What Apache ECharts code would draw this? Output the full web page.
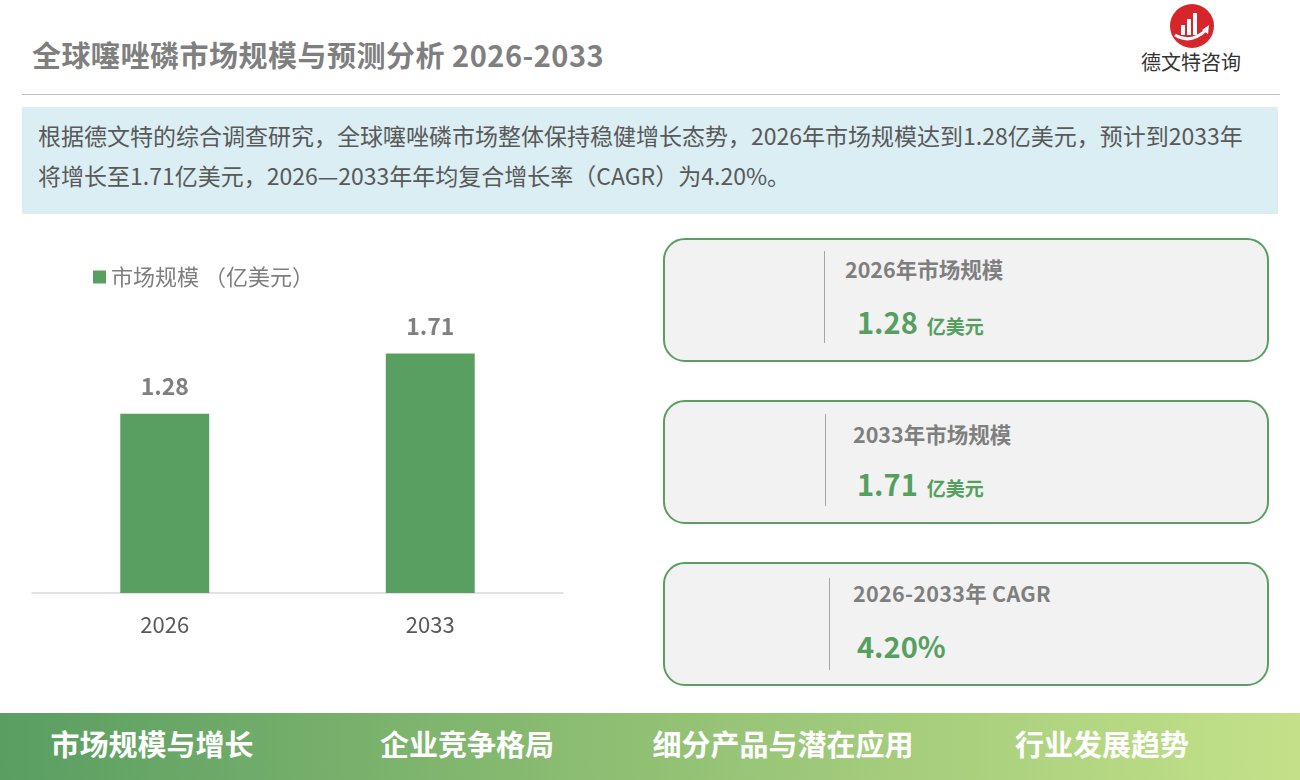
<!DOCTYPE html>
<html><head><meta charset="utf-8">
<script src="https://cdn.jsdelivr.net/npm/echarts@6/dist/echarts.min.js"></script>
<style>
*{margin:0;padding:0;box-sizing:border-box}
body{width:1300px;height:780px;background:#fff;position:relative;overflow:hidden;font-family:"Noto Sans CJK SC","Noto Sans",sans-serif}
.abs{position:absolute;line-height:1}
#title{left:32px;top:40px;font-size:29px;font-weight:bold;color:#7f7f7f;white-space:nowrap;letter-spacing:0.5px}
#rule{left:22px;top:94px;width:1258px;height:1px;background:#bfbfbf}
#logoText{left:1141px;top:52px;font-size:20px;color:#333;white-space:nowrap}
#info{left:22px;top:107px;width:1256px;height:107px;background:#daeef3;padding:8px 0 0 16px;font-size:23px;color:#595959;white-space:nowrap}
.card{left:663px;width:606px;height:124px;border:2px solid #5a9e62;border-radius:22px;background:#f2f2f2}
.vline{width:1px;background:#a6a6a6}
.ct{font-size:21.5px;font-weight:bold;color:#7f7f7f;white-space:nowrap}
.cv{font-size:29px;font-weight:bold;color:#55a05f;white-space:nowrap}
.cu{font-size:19px;font-weight:bold;color:#55a05f;margin-left:9px}
#footer{left:0;top:713px;width:1300px;height:67px;background:linear-gradient(90deg,#5a9e62 0%,#8cbd72 45%,#c4e189 100%)}
.ft{top:729px;font-size:29px;font-weight:bold;color:#fff;white-space:nowrap;transform:translateX(-50%)}
#chart{left:0;top:230px;width:600px;height:430px}
</style></head>
<body>
<div id="title" class="abs">全球噻唑磷市场规模与预测分析 2026-2033</div>
<svg class="abs" style="left:1169px;top:3px" width="46" height="46" viewBox="0 0 46 46">
<circle cx="23" cy="23" r="22" fill="#d7262b"/>
<rect x="12" y="22" width="4" height="10" fill="#fff"/>
<rect x="18" y="16" width="4" height="16" fill="#fff"/>
<rect x="24" y="10" width="4" height="22" fill="#fff"/>
<path d="M6 32 Q22 42 38 26" stroke="#fff" stroke-width="3" fill="none"/>
<path d="M40 22 L39 31 L33 27 Z" fill="#fff"/>
</svg>
<div id="logoText" class="abs">德文特咨询</div>
<div id="rule" class="abs"></div>
<div id="info" class="abs" style="line-height:40px">根据德文特的综合调查研究，全球噻唑磷市场整体保持稳健增长态势，2026年市场规模达到1.28亿美元，预计到2033年<br>将增长至1.71亿美元，2026—2033年年均复合增长率（CAGR）为4.20%。</div>

<div class="abs card" style="top:238px"></div>
<div class="abs vline" style="left:824px;top:251px;height:92px"></div>
<div class="abs ct" style="left:845px;top:258px">2026年市场规模</div>
<div class="abs cv" style="left:857px;top:307px">1.28<span class="cu">亿美元</span></div>

<div class="abs card" style="top:400px"></div>
<div class="abs vline" style="left:825px;top:414px;height:92px"></div>
<div class="abs ct" style="left:853px;top:423px">2033年市场规模</div>
<div class="abs cv" style="left:857px;top:469px">1.71<span class="cu">亿美元</span></div>

<div class="abs card" style="top:562px"></div>
<div class="abs vline" style="left:829px;top:578px;height:92px"></div>
<div class="abs ct" style="left:853px;top:582px;letter-spacing:0.3px">2026-2033年 CAGR</div>
<div class="abs cv" style="left:857px;top:631px">4.20%</div>

<div id="footer" class="abs"></div>
<div class="abs ft" style="left:152px">市场规模与增长</div>
<div class="abs ft" style="left:467px">企业竞争格局</div>
<div class="abs ft" style="left:783px">细分产品与潜在应用</div>
<div class="abs ft" style="left:1102px">行业发展趋势</div>

<div id="chart" class="abs"></div>
<script>
var categories = ["2026", "2033"];
var seriesName = "市场规模 （亿美元）";
var marketSize = [1.28, 1.71];

var chart = echarts.init(document.getElementById('chart'));
chart.setOption({
  animation:false,
  textStyle:{fontFamily:'"Noto Sans CJK SC","Noto Sans",sans-serif'},
  legend:{left:88,top:31,icon:'rect',itemWidth:13,itemHeight:13,itemGap:6,
    textStyle:{fontSize:22,color:'#7f7f7f'},data:[seriesName]},
  grid:{left:32,width:531,top:83,height:280,containLabel:false},
  xAxis:{type:'category',data:categories,
    axisLine:{lineStyle:{color:'#d9d9d9',width:1.5}},axisTick:{show:false},
    axisLabel:{fontSize:22,color:'#595959',margin:21}},
  yAxis:{type:'value',min:0,max:2,show:false,splitLine:{show:false}},
  series:[{name:seriesName,type:'bar',data:marketSize,barWidth:'33.5%',
    itemStyle:{color:'#5a9f62'},
    label:{show:true,position:'top',distance:16,fontSize:23,fontWeight:'bold',color:'#7f7f7f',
      formatter:function(p){return p.value.toFixed(2);}}}]
});
</script>
</body></html>
